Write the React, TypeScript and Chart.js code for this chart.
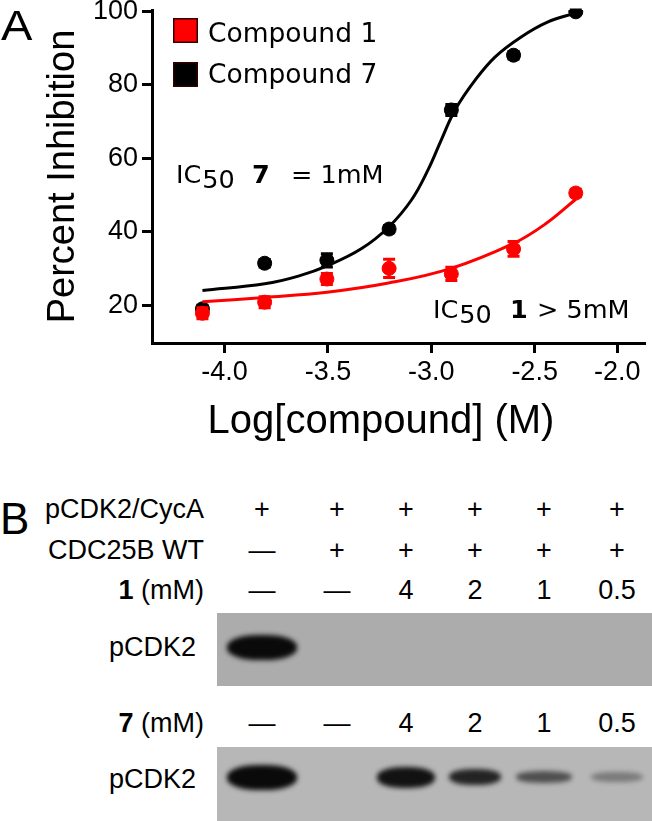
import React, { useEffect, useRef } from "react";
import { Chart, registerables } from "chart.js";

Chart.register(...registerables);

// ---------- DATA (panel A) ----------
const logConc = [-4.107, -3.806, -3.505, -3.204, -2.903, -2.602, -2.301];
const compound1Mean = [17.8, 20.8, 27.1, 30.0, 28.5, 35.3, 50.5];
const compound1Err = [1.5, 1.5, 1.5, 2.5, 1.8, 2.0, 1.0];
const compound7Mean = [19.0, 31.4, 32.2, 40.7, 73.1, 88.0, 99.8];
const compound7Err = [1.0, 1.0, 1.8, 1.0, 1.5, 1.0, 0.5];

// fitted curves
const fit1X = [-4.107, -3.806, -3.505, -3.207, -2.904, -2.602, -2.45, -2.301];
const fit1Y = [20.9, 22.1, 23.5, 26.0, 30.0, 36.8, 42.0, 48.8];
const fit7X = [-4.107, -3.806, -3.643, -3.495, -3.337, -3.207, -3.096, -3.014, -2.952, -2.885, -2.788, -2.692, -2.567, -2.438, -2.301];
const fit7Y = [24.0, 25.8, 27.9, 30.9, 35.4, 41.2, 48.6, 57.0, 64.9, 73.1, 81.2, 87.5, 92.9, 97.0, 99.5];

const xTickValues = [-4.0, -3.5, -3.0, -2.5, -2.1];
const xTickLabels = ["-4.0", "-3.5", "-3.0", "-2.5", "-2.0"];
const yTickValues = [20, 40, 60, 80, 100];

const seriesLabels = ["Compound 1", "Compound 7"];
const xTitle = "Log[compound] (M)";
const yTitle = "Percent Inhibition";

// ---------- DATA (panel B) ----------
const rowLabels = ["pCDK2/CycA", "CDC25B WT"];
const cycARow = ["+", "+", "+", "+", "+", "+"];
const cdcRow = ["—", "+", "+", "+", "+", "+"];
const dose1Row = ["—", "—", "4", "2", "1", "0.5"];
const dose7Row = ["—", "—", "4", "2", "1", "0.5"];
const blot1Intensity = [1, 0, 0, 0, 0, 0];
const blot2Intensity = [1, 0, 0.95, 0.85, 0.6, 0.35];

// ---------- LAYOUT ----------
const RED = "#ff0000";
const BLACK = "#000000";
const SANS = "'Liberation Sans', Arial, Helvetica, sans-serif";
const VERD = "'DejaVu Sans', Verdana, sans-serif";
const laneX = [262, 337, 406, 475, 544, 617];
const bandW = [70, 0, 58, 52, 56, 52];
const bandH = [25, 0, 21, 16, 12, 10];

const errorBarPlugin = {
  id: "errorBars",
  afterDatasetDraw(chart: any, args: any) {
    const ds: any = chart.data.datasets[args.index];
    if (!ds.errors) return;
    const { ctx } = chart;
    const y = chart.scales.y;
    ctx.save();
    ctx.strokeStyle = ds.backgroundColor;
    ctx.lineWidth = 3;
    args.meta.data.forEach((pt: any, i: number) => {
      const v = ds.data[i].y;
      const e = ds.errors[i];
      const y1 = y.getPixelForValue(v + e);
      const y2 = y.getPixelForValue(v - e);
      ctx.beginPath();
      ctx.moveTo(pt.x, y1);
      ctx.lineTo(pt.x, y2);
      ctx.moveTo(pt.x - 6, y1);
      ctx.lineTo(pt.x + 6, y1);
      ctx.moveTo(pt.x - 6, y2);
      ctx.lineTo(pt.x + 6, y2);
      ctx.stroke();
    });
    ctx.restore();
  },
};

const overlayPlugin = {
  id: "overlay",
  afterDraw(chart: any) {
    const { ctx } = chart;
    ctx.save();
    // legend
    const colors = [RED, BLACK];
    seriesLabels.forEach((lab, i) => {
      const top = 18 + i * 44;
      ctx.fillStyle = colors[i];
      ctx.fillRect(173, top, 25, 25);
      ctx.strokeStyle = "#300";
      ctx.lineWidth = 1.5;
      ctx.strokeRect(173.75, top + 0.75, 23.5, 23.5);
      ctx.fillStyle = "#000";
      ctx.font = `26.5px ${VERD}`;
      ctx.textBaseline = "alphabetic";
      ctx.textAlign = "left";
      ctx.fillText(lab, 208, 42 + i * 41);
    });
    // IC50 annotations
    const drawIC = (x: number, base: number, bold: string, boldX: number, rest: string, restX: number) => {
      ctx.fillStyle = "#000";
      ctx.font = `25.5px ${VERD}`;
      ctx.textAlign = "left";
      ctx.fillText("IC", x, base);
      const w = ctx.measureText("IC").width;
      ctx.fillText("50", x + w + 1, base + 5);
      ctx.font = `bold 25.5px ${VERD}`;
      ctx.fillText(bold, boldX, base);
      ctx.font = `25.5px ${VERD}`;
      ctx.fillText(rest, restX, base);
    };
    drawIC(176, 183, "7", 252, "= 1mM", 291);
    drawIC(433, 318, "1", 510, "> 5mM", 537);
    // x axis title
    ctx.font = `40px ${SANS}`;
    ctx.textAlign = "center";
    ctx.fillText(xTitle, 381, 433);
    ctx.restore();
  },
};

function PanelA() {
  const ref = useRef<HTMLCanvasElement | null>(null);
  useEffect(() => {
    if (!ref.current) return;
    const tickFont = { family: SANS, size: 27 };
    const grid = {
      display: true,
      drawOnChartArea: false,
      drawTicks: true,
      tickLength: 10,
      tickWidth: 3,
      tickColor: "#000",
      color: "#000",
      lineWidth: 3,
    };
    const border = { display: true, color: "#000", width: 3 };
    const chart = new Chart(ref.current, {
      type: "scatter",
      data: {
        datasets: [
          {
            label: seriesLabels[0],
            data: logConc.map((x, i) => ({ x, y: compound1Mean[i] })),
            backgroundColor: RED,
            borderColor: RED,
            pointRadius: 7,
            pointHoverRadius: 7,
            errors: compound1Err,
            order: 0,
          } as any,
          {
            label: "fit 1",
            data: fit1X.map((x, i) => ({ x, y: fit1Y[i] })),
            showLine: true,
            borderColor: RED,
            backgroundColor: RED,
            borderWidth: 3,
            pointRadius: 0,
            tension: 0.4,
            order: 1,
          } as any,
          {
            label: seriesLabels[1],
            data: logConc.map((x, i) => ({ x, y: compound7Mean[i] })),
            backgroundColor: BLACK,
            borderColor: BLACK,
            pointRadius: 7,
            pointHoverRadius: 7,
            errors: compound7Err,
            order: 2,
          } as any,
          {
            label: "fit 7",
            data: fit7X.map((x, i) => ({ x, y: fit7Y[i] })),
            showLine: true,
            borderColor: BLACK,
            backgroundColor: BLACK,
            borderWidth: 3,
            pointRadius: 0,
            tension: 0.4,
            order: 3,
          } as any,
        ],
      },
      options: {
        responsive: false,
        animation: false,
        events: [],
        layout: { padding: { left: 0, top: 10, right: 5, bottom: 0 } },
        plugins: { legend: { display: false }, tooltip: { enabled: false } },
        scales: {
          x: {
            type: "linear",
            min: -4.351,
            max: -1.971,
            afterBuildTicks: (s: any) => {
              s.ticks = xTickValues.map((v) => ({ value: v }));
            },
            afterFit: (s: any) => {
              s.height = 117;
              s.paddingLeft = 0;
              s.paddingRight = 0;
            },
            ticks: {
              callback: (_v: any, i: number) => xTickLabels[i],
              font: tickFont,
              color: "#000",
              padding: 3,
              autoSkip: false,
              maxRotation: 0,
            },
            grid,
            border,
          },
          y: {
            type: "linear",
            min: 9.7,
            max: 100.3,
            afterBuildTicks: (s: any) => {
              s.ticks = yTickValues.map((v) => ({ value: v }));
            },
            afterFit: (s: any) => {
              s.width = 152;
              s.paddingTop = 0;
              s.paddingBottom = 0;
            },
            ticks: {
              callback: (v: any) => String(v),
              font: tickFont,
              color: "#000",
              padding: 4,
              autoSkip: false,
            },
            grid,
            border,
            title: {
              display: true,
              text: yTitle,
              color: "#000",
              font: { family: SANS, size: 38, lineHeight: 1 },
              padding: { top: 45, bottom: 0 },
            },
          },
        },
      } as any,
      plugins: [errorBarPlugin, overlayPlugin],
    });
    return () => chart.destroy();
  }, []);
  return (
    <canvas
      ref={ref}
      width={652}
      height={460}
      style={{ position: "absolute", left: 0, top: 0, width: 652, height: 460 }}
    />
  );
}

function T(props: { x: number; y: number; size?: number; align?: string; children: any; bold?: boolean; sx?: number }) {
  const size = props.size ?? 27;
  const align = props.align ?? "left";
  let transform = align === "center" ? "translateX(-50%)" : align === "right" ? "translateX(-100%)" : "";
  if (props.sx) transform += ` scaleX(${props.sx})`;
  return (
    <div
      style={{
        position: "absolute",
        left: props.x,
        top: props.y - 0.4885 * size,
        fontSize: size,
        lineHeight: `${size}px`,
        fontFamily: SANS,
        fontWeight: props.bold ? "bold" : "normal",
        whiteSpace: "nowrap",
        transform: transform || undefined,
        transformOrigin: "left center",
        color: "#000",
      }}
    >
      {props.children}
    </div>
  );
}

function Blot(props: { top: number; height: number; bg: string; intensity: number[]; bandY: number }) {
  return (
    <>
      <div
        style={{
          position: "absolute",
          left: 217,
          top: props.top,
          width: 435,
          height: props.height,
          background: props.bg,
        }}
      />
      {props.intensity.map((v, i) =>
        v > 0 ? (
          <div
            key={i}
            style={{
              position: "absolute",
              left: laneX[i] - bandW[i] / 2,
              top: props.bandY - bandH[i] / 2,
              width: bandW[i],
              height: bandH[i],
              background: "#0a0a0a",
              borderRadius: "45%",
              filter: "blur(2.5px)",
              opacity: v,
            }}
          />
        ) : null
      )}
    </>
  );
}

export default function App() {
  return (
    <div
      style={{
        position: "absolute",
        left: 0,
        top: 0,
        width: 652,
        height: 821,
        background: "#fff",
        overflow: "hidden",
      }}
    >
      <PanelA />
      <T x={1} y={26} size={42} sx={1.12}>A</T>
      <T x={0} y={518} size={44}>B</T>

      <T x={204} y={509} align="right">{rowLabels[0]}</T>
      {cycARow.map((s, i) => (
        <T key={"a" + i} x={laneX[i]} y={509} align="center">{s}</T>
      ))}
      <T x={204} y={550} align="right">{rowLabels[1]}</T>
      {cdcRow.map((s, i) => (
        <T key={"b" + i} x={laneX[i]} y={550} align="center">{s}</T>
      ))}
      <T x={204} y={590} align="right">
        <b>1</b> (mM)
      </T>
      {dose1Row.map((s, i) => (
        <T key={"c" + i} x={laneX[i]} y={590} align="center">{s}</T>
      ))}

      <Blot top={613} height={73} bg="#acacac" intensity={blot1Intensity} bandY={647} />
      <T x={196} y={647} align="right">pCDK2</T>

      <T x={204} y={723} align="right">
        <b>7</b> (mM)
      </T>
      {dose7Row.map((s, i) => (
        <T key={"d" + i} x={laneX[i]} y={723} align="center">{s}</T>
      ))}

      <Blot top={747} height={74} bg="#b7b7b7" intensity={blot2Intensity} bandY={777} />
      <T x={196} y={779} align="right">pCDK2</T>
    </div>
  );
}
